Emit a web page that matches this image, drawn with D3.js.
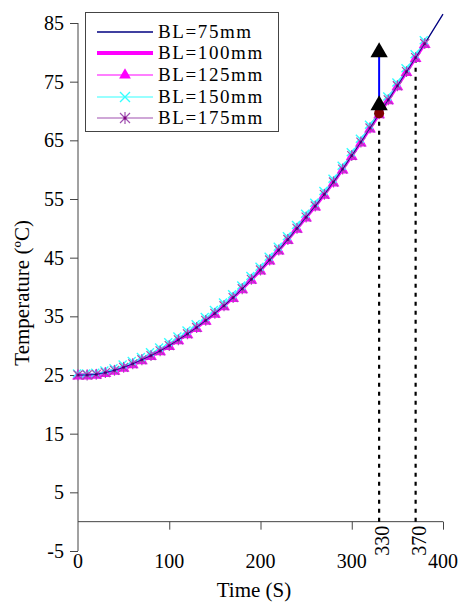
<!DOCTYPE html>
<html><head><meta charset="utf-8">
<script src="https://cdn.jsdelivr.net/npm/d3@7"></script>
<style>body{margin:0;background:#fff}svg{display:block}text{font-family:"Liberation Serif","Times New Roman",serif;fill:#000}</style>
</head><body><svg id="c" width="459" height="603"></svg>
<script>
// ---- data ----
const time = [0,10,20,30,40,50,60,70,80,90,100,110,120,130,140,150,160,170,180,190,200,210,220,230,240,250,260,270,280,290,300,310,320,330,340,350,360,370,380];
const timeLong = time.concat([390,400]);
const bl75  = [25.0,25.0,25.1,25.4,25.8,26.3,26.9,27.6,28.3,29.1,30.0,31.0,32.0,33.1,34.3,35.5,36.8,38.2,39.7,41.3,42.9,44.6,46.3,48.1,50.0,51.9,53.8,55.8,57.9,60.1,62.4,64.7,67.1,69.5,71.9,74.3,76.7,79.1,81.5,84.0,86.5];
const bl100 = [25.0,25.0,25.1,25.4,25.8,26.3,26.9,27.6,28.3,29.1,30.0,31.0,32.0,33.1,34.3,35.5,36.8,38.2,39.7,41.3,42.9,44.6,46.3,48.1,50.0,51.9,53.8,55.8,57.9,60.1,62.4,64.7,67.1,69.5,71.9,74.3,76.7,79.1,81.5];
const bl125 = [25.0,25.0,25.1,25.4,25.8,26.3,26.9,27.6,28.3,29.1,30.0,31.0,32.0,33.1,34.3,35.5,36.8,38.2,39.7,41.3,42.9,44.6,46.3,48.1,50.0,51.9,53.8,55.8,57.9,60.1,62.4,64.7,67.1,69.5,71.9,74.3,76.7,79.1,81.5];
const bl150 = [25.1,25.1,25.2,25.6,26.0,26.6,27.2,27.9,28.7,29.5,30.4,31.4,32.4,33.5,34.7,35.9,37.2,38.6,40.1,41.7,43.3,45.0,46.7,48.5,50.4,52.3,54.2,56.2,58.3,60.5,62.8,65.1,67.5,69.9,72.3,74.7,77.1,79.5,81.9];
const bl175 = [25.0,25.0,25.1,25.4,25.8,26.3,26.9,27.6,28.3,29.1,30.0,31.0,32.0,33.1,34.3,35.5,36.8,38.2,39.7,41.3,42.9,44.6,46.3,48.1,50.0,51.9,53.8,55.8,57.9,60.1,62.4,64.7,67.1,69.5,71.9,74.3,76.7,79.1,81.5];
const seriesNames = ["BL=75mm","BL=100mm","BL=125mm","BL=150mm","BL=175mm"];
const arrowTime = [330,330];
const arrowTemp = [71,80];
const markTime = [330,370];
const markTemp = [69,79];
const xTicks = [0,100,200,300,400];
const yTicks = [-5,5,15,25,35,45,55,65,75,85];
const xTitle = "Time (S)";
const yTitle = "Temperature (ºC)";

// ---- chart ----
const svg = d3.select("#c");
const x = d3.scaleLinear([0,400],[78,443]);
const y = d3.scaleLinear([-5,85],[551,23]);
const AX = "#444";

// y axis
const ya = svg.append("g").attr("transform",`translate(${x(0)},0)`)
  .call(d3.axisLeft(y).tickValues(yTicks).tickSize(8).tickPadding(6).tickFormat(d=>String(d)));
ya.select(".domain").attr("stroke",AX).attr("d",`M0,${y(85)}V${y(-5)}`);
ya.selectAll(".tick line").attr("stroke",AX);
ya.selectAll("text").style("font-size","20px").attr("font-family",null);

// x axis at y=0
const xa = svg.append("g").attr("transform",`translate(0,${y(0)})`)
  .call(d3.axisBottom(x).tickValues(xTicks.slice(1)).tickSize(8).tickFormat(()=>""));
xa.select(".domain").attr("stroke",AX).attr("d",`M${x(0)},0H${x(400)}`);
xa.selectAll(".tick line").attr("stroke",AX);
svg.append("g").selectAll("text").data(xTicks).join("text")
  .attr("x",d=>x(d)).attr("y",568).attr("text-anchor","middle").style("font-size","20px").text(d=>d);

// rotated special labels
svg.append("g").selectAll("text").data(markTime).join("text")
  .attr("transform",d=>`translate(${x(d)+3},${y(0)+4}) rotate(-90)`)
  .attr("text-anchor","end").attr("dominant-baseline","central").style("font-size","20px").text(d=>d);

// axis titles
svg.append("text").attr("x",254).attr("y",597).attr("text-anchor","middle").style("font-size","21px").text(xTitle);
svg.append("text").attr("transform",`translate(29,${y(39)}) rotate(-90)`).attr("text-anchor","middle").style("font-size","21px").text(yTitle);

// dotted guides
svg.append("g").selectAll("line").data(markTime).join("line")
  .attr("x1",d=>x(d)).attr("x2",d=>x(d)).attr("y1",y(0)).attr("y2",(d,i)=>y(markTemp[i]))
  .attr("stroke","#000").attr("stroke-width",2.2).attr("stroke-dasharray","4,5");

const line = (tt)=>d3.line().x((d,i)=>x(tt[i])).y(d=>y(d));
const plot = svg.append("g");
const C75="#000080", C100="#ff00ff", C125="#ff00ff", C150="#33ffff", C175="#a050b0";

function tri(g,cx,cy,s,fill){g.append("path").attr("d",d3.symbol(d3.symbolTriangle,s)()).attr("transform",`translate(${cx},${cy})`).attr("fill",fill);}
function cross(g,cx,cy,r,col,w){g.append("path").attr("d",`M${cx-r},${cy-r}L${cx+r},${cy+r}M${cx-r},${cy+r}L${cx+r},${cy-r}`).attr("stroke",col).attr("stroke-width",w).attr("fill","none");}
function star(g,cx,cy,r,col,w){g.append("path").attr("d",`M${cx-r},${cy-r}L${cx+r},${cy+r}M${cx-r},${cy+r}L${cx+r},${cy-r}M${cx},${cy-r*1.2}V${cy+r*1.2}`).attr("stroke",col).attr("stroke-width",w).attr("fill","none");
  g.append("circle").attr("cx",cx).attr("cy",cy).attr("r",1.6).attr("fill","#800080");}

plot.append("path").attr("d",line(timeLong)(bl75)).attr("fill","none").attr("stroke",C75).attr("stroke-width",1.3);
plot.append("path").attr("d",line(time)(bl100)).attr("fill","none").attr("stroke",C100).attr("stroke-width",3.5);
plot.append("path").attr("d",line(time)(bl125)).attr("fill","none").attr("stroke",C125).attr("stroke-width",1.2);
const mk = svg.append("g");
bl125.forEach((v,i)=>tri(mk,x(time[i]),y(v)+1,60,C125));
plot.append("path").attr("d",line(time)(bl150)).attr("fill","none").attr("stroke",C150).attr("stroke-width",1.2);
bl150.forEach((v,i)=>cross(mk,x(time[i])-1,y(v)-1,4,C150,1.4));
plot.append("path").attr("d",line(time)(bl175)).attr("fill","none").attr("stroke",C175).attr("stroke-width",1.2);
bl175.forEach((v,i)=>star(mk,x(time[i]),y(v),4.5,C175,1.2));
svg.append("path").attr("d",line(time)(bl75)).attr("fill","none").attr("stroke",C75).attr("stroke-width",0.8);

// arrow marker series
const ar = svg.append("g");
ar.append("circle").attr("cx",x(330)).attr("cy",y(69.6)).attr("r",5).attr("fill","#800000");
ar.append("path").attr("d",line(arrowTime)(arrowTemp)).attr("stroke","#0000ff").attr("stroke-width",2).attr("fill","none");
arrowTemp.forEach((v,i)=>tri(ar,x(arrowTime[i]),y(v),130,"#000"));

// legend
const lg = svg.append("g");
lg.append("rect").attr("x",85.5).attr("y",12.5).attr("width",193).attr("height",119).attr("fill","#fff").attr("stroke",AX);
const rows=[32,53,75,97,118];
const cols=[C75,C100,C125,C150,C175], widths=[1.3,4,1.2,1.2,1.2];
rows.forEach((ry,i)=>{
  lg.append("line").attr("x1",97).attr("x2",153).attr("y1",ry).attr("y2",ry).attr("stroke",cols[i]).attr("stroke-width",widths[i]);
  if(i==2) tri(lg,125,ry,60,C125);
  if(i==3) cross(lg,125,ry,5,C150,1.4);
  if(i==4) star(lg,125,ry,5,C175,1.2);
  lg.append("text").attr("x",158).attr("y",ry+6).style("font-size","19px").style("letter-spacing","1.6px").text(seriesNames[i]);
});
</script></body></html>
